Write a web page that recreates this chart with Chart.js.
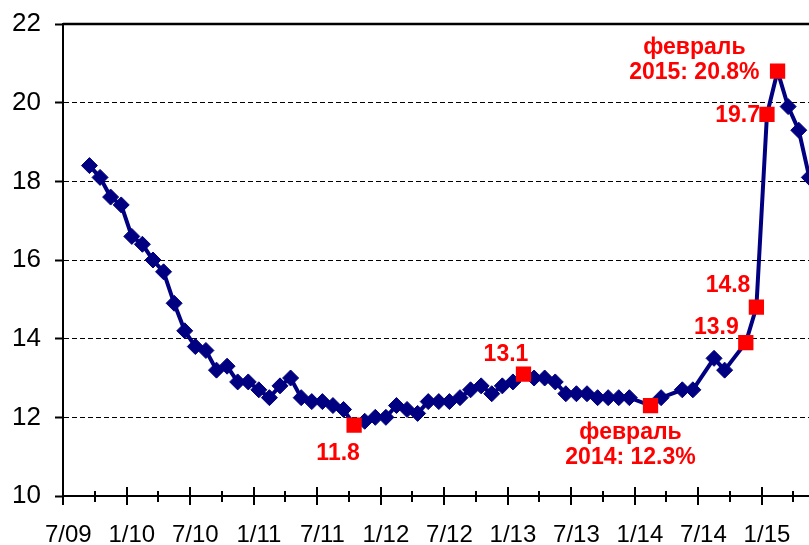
<!DOCTYPE html>
<html><head><meta charset="utf-8">
<script src="https://cdn.jsdelivr.net/npm/chart.js@4.4.0/dist/chart.umd.min.js"></script>
<style>
html,body{margin:0;padding:0;background:#fff;overflow:hidden;width:809px;height:545px;}
#wrap{width:836px;height:545px;}
</style></head><body>
<div id="wrap"><canvas id="c" width="836" height="545"></canvas></div>
<script>
// categories (month/year)
const months = [
 '7/09','8/09','9/09','10/09','11/09','12/09',
 '1/10','2/10','3/10','4/10','5/10','6/10','7/10','8/10','9/10','10/10','11/10','12/10',
 '1/11','2/11','3/11','4/11','5/11','6/11','7/11','8/11','9/11','10/11','11/11','12/11',
 '1/12','2/12','3/12','4/12','5/12','6/12','7/12','8/12','9/12','10/12','11/12','12/12',
 '1/13','2/13','3/13','4/13','5/13','6/13','7/13','8/13','9/13','10/13','11/13','12/13',
 '1/14','2/14','3/14','4/14','5/14','6/14','7/14','8/14','9/14','10/14','11/14','12/14',
 '1/15','2/15','3/15','4/15','5/15','6/15'
];
// series values, %
const values = [
 null, null, 18.4, 18.1, 17.6, 17.4,
 16.6, 16.4, 16.0, 15.7, 14.9, 14.2, 13.8, 13.7, 13.2, 13.3, 12.9, 12.9,
 12.7, 12.5, 12.8, 13.0, 12.5, 12.4, 12.4, 12.3, 12.2, 11.8, 11.9, 12.0,
 12.0, 12.3, 12.2, 12.1, 12.4, 12.4, 12.4, 12.5, 12.7, 12.8, 12.6, 12.8,
 12.9, 13.1, 13.0, 13.0, 12.9, 12.6, 12.6, 12.6, 12.5, 12.5, 12.5, 12.5,
 null, 12.3, 12.5, null, 12.7, 12.7, null, 13.5, 13.2, null, 13.9, 14.8,
 19.7, 20.8, 19.9, 19.3, 18.1, null
];
// highlighted months (red squares) and their annotation texts
const highlightMonths = ['10/11','2/13','2/14','11/14','12/14','1/15','2/15'];
const annotationTexts = [
 ['11.8'], ['13.1'], ['февраль','2014: 12.3%'], ['13.9'], ['14.8'], ['19.7'], ['февраль','2015: 20.8%']
];
// y tick values
const yTickValues = [10, 12, 14, 16, 18, 20, 22];

const NAVY = '#000080', RED = '#ff0000';
const AXIS_FONT = '"Liberation Sans", Arial, sans-serif';
const NOTE_FONT = 'bold 23px "Liberation Sans", Arial, sans-serif';

const redValues = months.map((m, i) => highlightMonths.includes(m) ? values[i] : null);

// annotation placement rules (index matches highlightMonths)
const notePlacement = [
 {align:'center', dx:-16, base:[34.5]},
 {align:'center', dx:-17.5, base:[-13]},
 {align:'center', dx:-20, base:[33, 58]},
 {align:'right', dx:-7, base:[-8.5]},
 {align:'right', dx:-6, base:[-15.5]},
 {align:'right', dx:-7, base:[8]},
 {align:'blockRight', dx:-18, base:[-17.5, 7.5]}
];

const decorPlugin = {
  id: 'decor',
  afterDraw(chart) {
    const ctx = chart.ctx;
    const ca = chart.chartArea;
    const xs = chart.scales.x;
    ctx.save();
    // top border of plot area
    ctx.strokeStyle = '#000'; ctx.lineWidth = 2.5; ctx.setLineDash([]);
    ctx.beginPath(); ctx.moveTo(ca.left, ca.top); ctx.lineTo(ca.right + 20, ca.top); ctx.stroke();
    // x tick marks every 3 months at category boundaries
    ctx.lineWidth = 2;
    for (let i = 0; i <= months.length; i += 3) {
      const x = Math.round(xs.getPixelForValue(i - 0.5));
      const major = i % 6 === 0;
      ctx.beginPath();
      ctx.moveTo(x, ca.bottom - (major ? 9 : 5));
      ctx.lineTo(x, ca.bottom + (major ? 9 : 6));
      ctx.stroke();
    }
    // annotations
    const meta = chart.getDatasetMeta(1);
    ctx.font = NOTE_FONT; ctx.fillStyle = RED; ctx.textBaseline = 'alphabetic';
    highlightMonths.forEach((mo, k) => {
      const pt = meta.data[months.indexOf(mo)];
      const p = notePlacement[k];
      const lines = annotationTexts[k];
      if (p.align === 'blockRight') {
        const w = Math.max(...lines.map(l => ctx.measureText(l).width));
        ctx.textAlign = 'center';
        lines.forEach((l, j) => ctx.fillText(l, pt.x + p.dx - w / 2, pt.y + p.base[j]));
      } else {
        ctx.textAlign = p.align;
        lines.forEach((l, j) => ctx.fillText(l, pt.x + p.dx, pt.y + p.base[j]));
      }
    });
    ctx.restore();
  }
};

new Chart(document.getElementById('c'), {
  type: 'line',
  data: {
    labels: months,
    datasets: [
      {
        data: values,
        borderColor: NAVY, borderWidth: 4, spanGaps: true, tension: 0,
        pointStyle: 'rectRot',
        pointRadius: c => highlightMonths.includes(months[c.dataIndex]) ? 0 : 8,
        pointBackgroundColor: NAVY, pointBorderColor: NAVY, pointBorderWidth: 1,
        order: 2
      },
      {
        data: redValues, showLine: false,
        pointStyle: 'rect', pointRadius: 10.8,
        pointBackgroundColor: RED, pointBorderColor: RED, pointBorderWidth: 0,
        order: 1
      }
    ]
  },
  options: {
    responsive: false, animation: false, devicePixelRatio: 1,
    layout: { padding: { top: 24, right: 7.4, left: 0, bottom: 0 } },
    plugins: { legend: { display: false }, tooltip: { enabled: false }, title: { display: false } },
    scales: {
      x: {
        type: 'category', offset: true,
        grid: { display: false, offset: true },
        border: { display: true, color: '#000', width: 2 },
        ticks: {
          autoSkip: false, maxRotation: 0, minRotation: 0, padding: 17,
          color: '#000', font: { family: AXIS_FONT, size: 24 },
          callback: function(v, i) { const l = months[i]; return (l.startsWith('1/') || l.startsWith('7/')) ? l : ''; }
        },
        afterFit: s => { s.height = 49; s.paddingLeft = 0; s.paddingRight = 0; }
      },
      y: {
        min: 10, max: 22,
        afterBuildTicks: s => { s.ticks = yTickValues.map(v => ({ value: v })); },
        grid: { color: '#000', lineWidth: 1, drawTicks: true, tickLength: 8, tickColor: '#000', tickWidth: 2, borderDash: [5, 3] },
        border: { display: true, color: '#000', width: 2, dash: [5, 3] },
        ticks: { padding: 14, color: '#000', font: { family: AXIS_FONT, size: 26 } },
        afterFit: s => { s.width = 63; s.paddingTop = 0; s.paddingBottom = 0; }
      }
    }
  },
  plugins: [decorPlugin]
});
</script>
</body></html>
